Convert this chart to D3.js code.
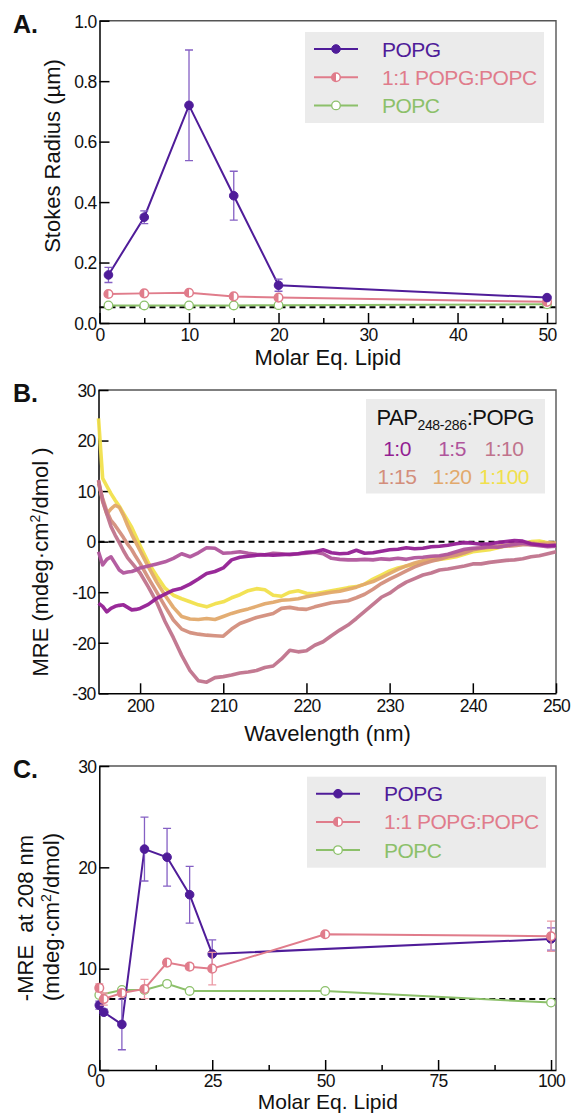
<!DOCTYPE html>
<html lang="en">
<head>
<meta charset="utf-8">
<title>PAP248-286 lipid binding</title>
<script src="https://d3js.org/d3.v7.min.js"></script>
<style>
  body { margin: 0; background: #fff; }
  svg text { font-family: "Liberation Sans", Arial, sans-serif; fill: #111; }
  .axis text { font-size: 17.5px; letter-spacing: -0.7px; }
  .axis path, .axis line { stroke: #000; stroke-width: 1.5; }
  .axis-title { font-size: 22px; }
  .panel-letter { font-size: 25px; font-weight: bold; }
  .legend-text { font-size: 21px; letter-spacing: -0.5px; }
  .frame { stroke: #555; stroke-width: 1.4; fill: none; }
  .baseline { stroke: #000; stroke-width: 2; stroke-dasharray: 6 4; }
</style>
</head>
<body>
<script>

// ---------- data ----------
// A. Stokes radius vs molar eq. lipid
const lipidA = [1, 5, 10, 15, 20, 50];
const radiusPOPG = [0.159, 0.350, 0.720, 0.421, 0.125, 0.084];
const radiusPOPGErr = [0.025, 0.021, 0.183, 0.081, 0.020, 0.004];
const radiusMix = [0.096, 0.098, 0.100, 0.088, 0.084, 0.070];
const radiusMixErr = [0.006, 0.004, 0.006, 0.006, 0.004, 0.003];
const radiusPOPC = [0.058, 0.058, 0.058, 0.058, 0.059, 0.062];
const radiusRef = 0.052;
const xTicksA = [0, 10, 20, 30, 40, 50];
const xMinorA = [5, 15, 25, 35, 45];
const yTicksA = [0, 0.2, 0.4, 0.6, 0.8, 1.0];

// B. CD spectra, PAP248-286:POPG ratios
const ratios = ["1:0", "1:5", "1:10", "1:15", "1:20", "1:100"];
const ratioColors = ["#931f93", "#b0559c", "#c0738c", "#d38e7c", "#e2a96c", "#f1e04c"];
const wavelength = [195, 195.5, 196, 196.5, 197, 197.5, 198, 198.5, 199, 199.5, 200,
  201, 202, 203, 204, 205, 206, 207, 208, 209, 210, 211, 212, 213, 214, 215, 216, 217, 218, 219, 220,
  221, 222, 223, 224, 225, 226, 227, 228, 229, 230, 231, 232, 233, 234, 235, 236, 237, 238, 239, 240,
  241, 242, 243, 244, 245, 246, 247, 248, 249, 250];
const mre1_0 = [-12.2, -12.8, -13.9, -13.2, -12.8, -12.6, -12.5, -13.0, -13.5, -13.4, -13.2,
  -12.4, -11.2, -10.4, -9.6, -9.2, -8.4, -7.4, -6.3, -5.9, -5.2, -3.6, -3.1, -2.9, -2.7, -2.6, -2.7, -2.6, -2.5, -2.4, -2.1,
  -2.0, -1.6, -2.2, -2.4, -2.3, -1.7, -2.3, -2.2, -1.9, -1.6, -1.5, -1.2, -1.4, -1.3, -1.0, -0.9, -0.7, -0.4, -0.2, -0.3,
  -0.5, -0.4, -0.2, 0.0, 0.2, 0.1, -0.4, -0.6, -0.8, -0.7];
const mre1_5 = [-2.0, -4.6, -3.5, -3.0, -4.3, -5.6, -6.2, -6.0, -5.9, -5.6, -5.2,
  -4.8, -4.4, -4.0, -3.3, -2.4, -3.0, -2.2, -1.2, -1.3, -2.3, -2.2, -2.0, -2.3, -2.5, -2.6, -2.3, -2.4, -2.6, -2.4, -2.3,
  -2.1, -2.4, -3.3, -3.5, -3.6, -3.6, -3.5, -3.6, -3.4, -3.5, -3.3, -3.5, -3.2, -3.1, -2.9, -2.8, -2.5, -2.0, -1.5, -1.3,
  -1.2, -1.0, -1.1, -0.8, -0.5, -0.3, -0.6, -0.8, -1.0, -0.9];
const mre1_10 = [12.2, 8.0, 5.5, 3.0, 1.3, -0.2, -1.8, -3.2, -4.2, -5.2, -6.2,
  -9.0, -12.0, -15.8, -19.0, -22.5, -25.5, -27.5, -27.8, -26.9, -26.7, -26.4, -26.0, -25.8, -25.5, -24.9, -24.6, -23.2, -21.5, -21.8, -21.6,
  -20.5, -19.8, -18.6, -17.5, -16.5, -15.2, -13.8, -12.4, -11.0, -10.2, -9.0, -8.0, -7.3, -6.6, -6.2, -5.6, -5.4, -5.1, -4.8, -4.4,
  -4.4, -4.1, -3.9, -3.7, -3.6, -3.4, -3.0, -2.8, -2.4, -2.0];
const mre1_15 = [11.5, 8.5, 6.0, 4.2, 3.2, 2.0, 0.8, -0.5, -1.6, -3.0, -4.3,
  -7.2, -10.0, -12.8, -15.5, -17.3, -18.0, -18.3, -18.5, -18.6, -18.7, -17.3, -16.2, -15.6, -15.0, -14.6, -14.2, -13.2, -13.0, -13.3, -13.4,
  -12.9, -12.5, -12.1, -11.9, -11.7, -11.1, -10.4, -9.4, -8.3, -7.4, -6.6, -5.8, -5.0, -4.4, -3.9, -3.5, -3.0, -2.7, -2.2, -1.6,
  -1.3, -1.1, -1.0, -0.9, -0.8, -0.6, -0.6, -0.7, -0.6, -0.5];
const mre1_20 = [12.0, 8.0, 5.5, 6.5, 7.2, 6.8, 5.2, 3.2, 1.4, -0.2, -1.8,
  -5.0, -8.0, -10.6, -13.0, -14.8, -15.3, -15.4, -15.2, -15.4, -14.8, -14.2, -13.7, -13.3, -12.8, -12.3, -12.0, -11.6, -11.5, -11.3, -10.9,
  -10.6, -10.3, -10.0, -9.8, -9.4, -9.0, -8.4, -7.9, -7.1, -6.3, -5.5, -4.8, -4.2, -3.8, -3.4, -3.0, -2.6, -2.3, -2.0, -1.5,
  -1.2, -1.0, -0.9, -0.7, -0.5, -0.3, -0.3, -0.4, -0.3, -0.3];
const mre1_100 = [24.4, 12.5, 11.0, 9.5, 8.2, 7.0, 5.6, 4.2, 2.8, 1.0, -0.8,
  -4.2, -6.8, -9.2, -10.6, -11.3, -11.9, -12.5, -12.9, -12.3, -11.9, -11.1, -10.5, -9.7, -9.3, -9.5, -10.6, -10.8, -10.0, -9.7, -10.2,
  -10.3, -10.0, -9.7, -9.4, -9.1, -8.9, -8.4, -7.4, -6.6, -5.8, -5.2, -4.8, -4.5, -4.1, -3.7, -3.5, -3.3, -3.0, -2.5, -2.0,
  -1.8, -1.6, -1.2, -0.8, -0.6, -0.3, 0.0, 0.1, -0.2, -0.4];
const spectra = [mre1_0, mre1_5, mre1_10, mre1_15, mre1_20, mre1_100];
const xTicksB = [200, 210, 220, 230, 240, 250];
const yTicksB = [-30, -20, -10, 0, 10, 20, 30];

// C. -MRE at 208 nm vs molar eq. lipid
const lipidPOPG = [0, 1, 5, 10, 15, 20, 25, 100];
const mrePOPG = [6.4, 5.7, 4.5, 21.8, 21.0, 17.3, 11.45, 12.93];
const mrePOPGErr = [0.4, 0.3, 2.5, 3.15, 2.85, 2.8, 1.4, 1.1];
const lipidMix = [0, 1, 5, 10, 15, 20, 25, 50, 100];
const mreMix = [8.1, 7.0, 7.6, 8.0, 10.6, 10.2, 10.0, 13.4, 13.2];
const mreMixErr = [0.4, 0.6, 0.3, 0.95, 0.3, 0.3, 1.6, 0.2, 1.5];
const lipidPOPC = [0, 5, 10, 15, 20, 50, 100];
const mrePOPC = [7.4, 7.9, 7.9, 8.5, 7.8, 7.8, 6.65];
const mreRef = 7.0;
const xTicksC = [0, 25, 50, 75, 100];
const xMinorC = [12.5, 37.5, 62.5, 87.5];
const yTicksC = [0, 10, 20, 30];

const lipidNames = ["POPG", "1:1 POPG:POPC", "POPC"];
const colPOPG = "#4f1c99", colMix = "#e07c8b", colPOPC = "#8cc06a";
const errPOPG = "#8560c4", errMix = "#eb9aa5";

// ---------- svg ----------
const W = 571, H = 1114;
const svg = d3.select("body").append("svg")
    .attr("width", W).attr("height", H);

function makePanel(p) {
    let x = d3.scaleLinear().domain(p.xDomain).range([p.left, p.right]);
    let y = d3.scaleLinear().domain(p.yDomain).range([p.bottom, p.top]);
    let g = svg.append("g");

    // frame (top / right in grey)
    g.append("path").attr("class", "frame")
        .attr("d", `M${p.left},${p.top}H${p.right}V${p.bottom}`);

    let xAxis = g.append("g").attr("class", "axis")
        .attr("transform", `translate(0,${p.bottom})`)
        .call(d3.axisBottom(x).tickValues(p.xTicks).tickSize(-10)
            .tickSizeOuter(0).tickPadding(p.pad || 6).tickFormat(p.xFormat));
    if (p.xMinor) {
        g.append("g").attr("class", "axis")
            .attr("transform", `translate(0,${p.bottom})`)
            .call(d3.axisBottom(x).tickValues(p.xMinor).tickSize(-5)
                .tickSizeOuter(0).tickFormat(""))
            .select(".domain").remove();
    }
    let yAxis = g.append("g").attr("class", "axis")
        .attr("transform", `translate(${p.left},0)`)
        .call(d3.axisLeft(y).tickValues(p.yTicks).tickSize(-10)
            .tickSizeOuter(0).tickPadding(3).tickFormat(p.yFormat));
    [xAxis, yAxis].forEach(a => a.attr("font-size", null).attr("font-family", null));
    yAxis.selectAll("text").attr("dy", "0.36em");

    return { x, y, g };
}

function drawSeries(panel, xs, ys, errs, color, errColor, marker) {
    let pts = xs.map((d, i) => ({ x: d, y: ys[i], e: errs ? errs[i] : 0 }));
    let line = d3.line().x(d => panel.x(d.x)).y(d => panel.y(d.y));
    let g = panel.g.append("g");

    g.append("path").datum(pts)
        .attr("d", line).attr("fill", "none")
        .attr("stroke", color).attr("stroke-width", 2);

    if (errs) {
        g.selectAll(".err").data(pts.filter(d => d.e > 0)).enter()
            .append("path")
            .attr("d", d => {
                let cx = panel.x(d.x), y1 = panel.y(d.y - d.e), y2 = panel.y(d.y + d.e);
                return `M${cx - 4},${y1}H${cx + 4}M${cx},${y1}V${y2}M${cx - 4},${y2}H${cx + 4}`;
            })
            .attr("fill", "none").attr("stroke", errColor).attr("stroke-width", 1.3);
    }

    pts.forEach(d => drawMarker(g, panel.x(d.x), panel.y(d.y), color, marker));
}

function drawMarker(g, cx, cy, color, kind) {
    let r = 4.3;
    if (kind === "filled") {
        g.append("circle").attr("cx", cx).attr("cy", cy).attr("r", r)
            .attr("fill", color).attr("stroke", color).attr("stroke-width", 1);
    } else if (kind === "half") {
        g.append("circle").attr("cx", cx).attr("cy", cy).attr("r", r)
            .attr("fill", "#fff").attr("stroke", color).attr("stroke-width", 1.5);
        g.append("path")
            .attr("d", `M${cx},${cy - r}A${r},${r} 0 0 0 ${cx},${cy + r}Z`)
            .attr("fill", color);
    } else {
        g.append("circle").attr("cx", cx).attr("cy", cy).attr("r", r)
            .attr("fill", "#fff").attr("stroke", color).attr("stroke-width", 1.3);
    }
}

function lipidLegend(panel, box) {
    let g = panel.g.append("g");
    g.append("rect").attr("x", box.x).attr("y", box.y)
        .attr("width", box.w).attr("height", box.h).attr("fill", "#ebebeb");
    let cols = [colPOPG, colMix, colPOPC], kinds = ["filled", "half", "open"];
    lipidNames.forEach((name, i) => {
        let cy = box.y + 17 + i * 28.2;
        g.append("line").attr("x1", box.x + 9).attr("x2", box.x + 53)
            .attr("y1", cy).attr("y2", cy)
            .attr("stroke", cols[i]).attr("stroke-width", 2);
        drawMarker(g, box.x + 31, cy, cols[i], kinds[i]);
        g.append("text").attr("class", "legend-text")
            .attr("x", box.x + 77).attr("y", cy + 7.5)
            .style("fill", cols[i]).text(name);
    });
}

function yTitle(x, y, parts) {
    let t = svg.append("text").attr("class", "axis-title")
        .attr("transform", `translate(${x},${y}) rotate(-90)`)
        .attr("text-anchor", "middle");
    parts.forEach(p => {
        let s = t.append("tspan").text(p.t);
        if (p.sup) s.attr("dy", -8).style("font-size", "14px");
        if (p.after) s.attr("dy", 8);
    });
    return t;
}

function xTitle(x, y, label, size) {
    let t = svg.append("text").attr("class", "axis-title")
        .attr("x", x).attr("y", y).attr("text-anchor", "middle").text(label);
    if (size) t.style("font-size", size + "px");
}

function letter(x, y, label) {
    svg.append("text").attr("class", "panel-letter")
        .attr("x", x).attr("y", y).text(label);
}

// ---------- A ----------
let pA = makePanel({
    left: 99.5, right: 556, top: 20.7, bottom: 323,
    xDomain: [0, 51], yDomain: [0, 1],
    xTicks: xTicksA, xMinor: xMinorA, yTicks: yTicksA,
    xFormat: d3.format("d"), yFormat: d3.format(".1f")
});
pA.g.append("line").attr("class", "baseline")
    .attr("x1", pA.x(0)).attr("x2", pA.x(51))
    .attr("y1", pA.y(radiusRef)).attr("y2", pA.y(radiusRef));
drawSeries(pA, lipidA, radiusPOPC, null, colPOPC, null, "open");
drawSeries(pA, lipidA, radiusMix, radiusMixErr, colMix, errMix, "half");
drawSeries(pA, lipidA, radiusPOPG, radiusPOPGErr, colPOPG, errPOPG, "filled");
lipidLegend(pA, { x: 305, y: 32, w: 239, h: 91 });
letter(13, 32.7, "A.");
yTitle(59.5, 156, [{ t: "Stokes Radius (µm)" }]);
xTitle(327.8, 365, "Molar Eq. Lipid");

// ---------- B ----------
let pB = makePanel({
    left: 98.5, right: 556, top: 390, bottom: 693.3,
    xDomain: [195, 250], yDomain: [-30, 30],
    xTicks: xTicksB, yTicks: yTicksB,
    xFormat: d3.format("d"), yFormat: d => String(d)
});
pB.g.append("line").attr("class", "baseline")
    .attr("x1", pB.x(195)).attr("x2", pB.x(250))
    .attr("y1", pB.y(0)).attr("y2", pB.y(0));

let specLine = d3.line()
    .x((d, i) => pB.x(wavelength[i]))
    .y(d => pB.y(d));
let drawOrder = [5, 4, 3, 2, 1, 0];
drawOrder.forEach(k => {
    pB.g.append("path").datum(spectra[k])
        .attr("d", specLine).attr("fill", "none")
        .attr("stroke", ratioColors[k]).attr("stroke-width", 3.6)
        .attr("stroke-linejoin", "round").attr("opacity", 0.95);
});

// legend B
let lgB = pB.g.append("g");
lgB.append("rect").attr("x", 366).attr("y", 399)
    .attr("width", 179).attr("height", 94.5).attr("fill", "#ebebeb");
let ttl = lgB.append("text").attr("class", "legend-text")
    .attr("x", 376.5).attr("y", 425).style("font-size", "22px");
ttl.append("tspan").text("PAP");
ttl.append("tspan").attr("dy", 5).style("font-size", "14px").style("letter-spacing", "-0.3px").text("248-286");
ttl.append("tspan").attr("dy", -5).text(":POPG");
let colX = [397, 452, 504], rowY = [456, 484];
ratios.forEach((r, i) => {
    lgB.append("text").attr("class", "legend-text")
        .attr("x", colX[i % 3]).attr("y", rowY[Math.floor(i / 3)])
        .attr("text-anchor", "middle")
        .style("fill", ratioColors[i]).text(r);
});

letter(13, 401.7, "B.");
yTitle(47.7, 562, [{ t: "MRE (mdeg·cm" }, { t: "2", sup: true }, { t: "/dmol )", after: true }]);
xTitle(327.5, 741, "Wavelength (nm)");

// ---------- C ----------
let pC = makePanel({
    left: 99.3, right: 556, top: 766, bottom: 1070,
    xDomain: [0, 101.1], yDomain: [0, 30], pad: 5,
    xTicks: xTicksC, xMinor: xMinorC, yTicks: yTicksC,
    xFormat: d3.format("d"), yFormat: d3.format("d")
});
pC.g.append("line").attr("class", "baseline")
    .attr("x1", pC.x(0)).attr("x2", pC.x(101.1))
    .attr("y1", pC.y(mreRef)).attr("y2", pC.y(mreRef));
drawSeries(pC, lipidPOPC, mrePOPC, null, colPOPC, null, "open");
drawSeries(pC, lipidPOPG, mrePOPG, mrePOPGErr, colPOPG, errPOPG, "filled");
drawSeries(pC, lipidMix, mreMix, mreMixErr, colMix, errMix, "half");
lipidLegend(pC, { x: 307, y: 776.7, w: 239, h: 91 });
letter(13, 778.3, "C.");
yTitle(33.3, 918, [{ t: "-MRE\u00a0 at 208 nm" }]);
yTitle(58.5, 917, [{ t: "(mdeg·cm" }, { t: "2", sup: true }, { t: "/dmol)", after: true }]);
xTitle(327.8, 1109, "Molar Eq. Lipid", 21);

</script>
</body>
</html>
